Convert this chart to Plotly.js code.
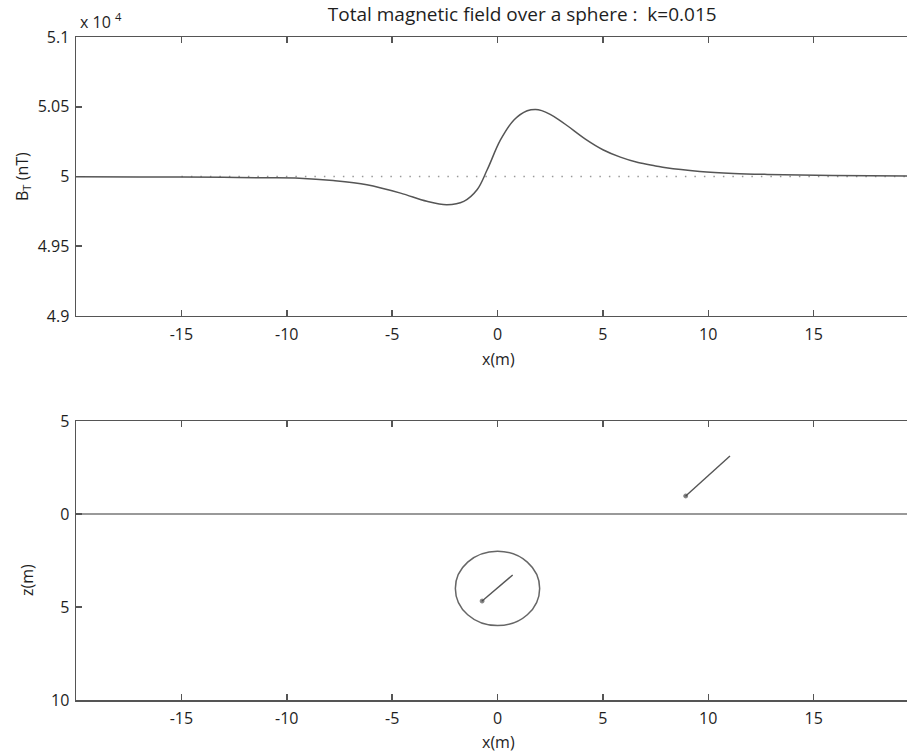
<!DOCTYPE html>
<html>
<head>
<meta charset="utf-8">
<script src="https://cdn.plot.ly/plotly-3.0.1.min.js"></script>
<style>html,body{margin:0;padding:0;background:#fff;}#chart{width:907px;height:753px;}</style>
</head>
<body>
<div id="chart"></div>
<script>
// ---- data ----
const profileX = [-20,-17,-15,-13,-11,-9.4,-7.8,-6.2,-4.6,-3.35,-2.4,-1.6,-0.97,-0.49,0.14,0.78,1.41,1.81,2.1,2.5,2.9,3.33,4.17,5.0,5.83,6.67,7.5,8.0,9.6,11.2,12.8,15.9,19.5];
const fieldBT = [49998,49997,49996,49994,49991,49988,49971,49941,49881,49822,49798,49822,49905,50048,50262,50405,50471,50481,50472,50445,50408,50362,50268,50192,50139,50100,50076,50062,50036,50022,50015,50008,50004];
const refX = [-15, 20];
const refBT = [50000, 50000];
const xTicks = [-15,-10,-5,0,5,10,15];
const xTickText = ['-15','-10','-5','0','5','10','15'];
const btTicks = [49000,49500,50000,50500,51000];
const btTickText = ['4.9','4.95','5','5.05','5.1'];
const zTicks = [-5,0,5,10];
const zTickText = ['5','0','5','10'];
const surfaceX = [-20, 20];
const surfaceZ = [0, 0];
const sphereX = 0, sphereZ = 4, sphereR = 2;
const momentX = [-0.73, 0.72];
const momentZ = [4.68, 3.28];
const fieldX = [8.93, 11.03];
const fieldZ = [-0.97, -3.12];

const FONT = 'Open Sans, sans-serif';
const AX = '#555';
const TXT = '#1e1e1e';
const FS = 16;

const traces = [
  {x: refX, y: refBT, xaxis:'x', yaxis:'y', mode:'lines', line:{color:'#999', width:1.5, dash:'1.5px,8px'}, hoverinfo:'skip'},
  {x: profileX, y: fieldBT, xaxis:'x', yaxis:'y', mode:'lines', line:{color:'#555', width:1.5, shape:'spline', smoothing:1}},
  {x: surfaceX, y: surfaceZ, xaxis:'x2', yaxis:'y2', mode:'lines', line:{color:'#777', width:1.5}},
  {x: momentX, y: momentZ, xaxis:'x2', yaxis:'y2', mode:'lines+markers', line:{color:'#555', width:1.4}, marker:{size:[4,0], color:'#444'}},
  {x: fieldX, y: fieldZ, xaxis:'x2', yaxis:'y2', mode:'lines+markers', line:{color:'#555', width:1.4}, marker:{size:[4,0], color:'#444'}}
];

function xAxis(anchor){
  return {anchor: anchor, domain:[0,1], range:[-20,19.43], tickvals:xTicks, ticktext:xTickText,
    ticks:'inside', ticklen:6, tickwidth:1.5, tickcolor:AX, showline:true, linecolor:AX, linewidth:1.5,
    mirror:'ticks', showgrid:false, zeroline:false, tickfont:{family:FONT, size:FS, color:TXT}, ticklabelstandoff:3};
}
function yAxisBase(){
  return {ticks:'inside', ticklen:6, tickwidth:1.5, tickcolor:AX, showline:true, linecolor:AX, linewidth:1.5,
    showgrid:false, zeroline:false, tickfont:{family:FONT, size:FS, color:TXT}, ticklabelstandoff:2};
}

const layout = {
  width:907, height:753, showlegend:false,
  paper_bgcolor:'#fff', plot_bgcolor:'#fff',
  margin:{l:76, r:0, t:37, b:53},
  title:{text:'Total magnetic field over a sphere :  k=0.015', xref:'paper', x:0.537, xanchor:'center',
         yref:'container', y:1-14/753, yanchor:'middle', font:{family:FONT, size:19, color:TXT}},
  xaxis: xAxis('y'),
  xaxis2: xAxis('y2'),
  yaxis: Object.assign(yAxisBase(), {domain:[0.5792,1], range:[49000,51000], tickvals:btTicks, ticktext:btTickText}),
  yaxis2: Object.assign(yAxisBase(), {domain:[0,0.4208], range:[10,-5], tickvals:zTicks, ticktext:zTickText}),
  shapes:[
    {type:'circle', xref:'x2', yref:'y2', x0:sphereX-sphereR, x1:sphereX+sphereR, y0:sphereZ-sphereR, y1:sphereZ+sphereR,
     line:{color:'#666', width:1.5}}
  ],
  annotations:[
    {text:'x 10 <sup>4</sup>', xref:'paper', yref:'paper', x:0.002, y:1+(37-21)/663, xanchor:'left', yanchor:'middle',
     showarrow:false, font:{family:FONT, size:16, color:TXT}},
    {text:'B<sub>T</sub> (nT)', xref:'paper', yref:'paper', x:(22-76)/831, y:(700-177)/663, xanchor:'center', yanchor:'middle',
     textangle:-90, showarrow:false, font:{family:FONT, size:16, color:TXT}},
    {text:'x(m)', xref:'paper', yref:'paper', x:0.509, y:(700-359)/663, xanchor:'center', yanchor:'middle',
     showarrow:false, font:{family:FONT, size:16, color:TXT}},
    {text:'z(m)', xref:'paper', yref:'paper', x:(27-76)/831, y:(700-580)/663, xanchor:'center', yanchor:'middle',
     textangle:-90, showarrow:false, font:{family:FONT, size:16, color:TXT}},
    {text:'x(m)', xref:'paper', yref:'paper', x:0.509, y:(700-742)/663, xanchor:'center', yanchor:'middle',
     showarrow:false, font:{family:FONT, size:16, color:TXT}}
  ]
};

Plotly.newPlot('chart', traces, layout, {staticPlot:true, displayModeBar:false});
</script>
</body>
</html>
